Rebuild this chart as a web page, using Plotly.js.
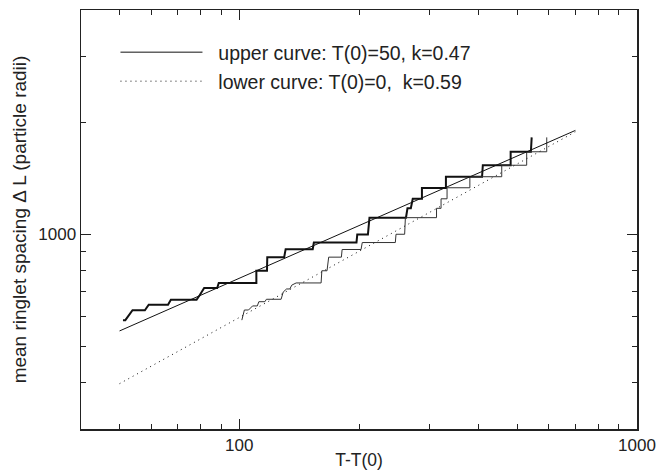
<!DOCTYPE html>
<html>
<head>
<meta charset="utf-8">
<script src="https://cdn.plot.ly/plotly-3.0.1.min.js"></script>
<style>html,body{margin:0;padding:0;background:#fff}#chart{width:657px;height:473px}</style>
</head>
<body>
<div id="chart"></div>
<script>
// Upper staircase (T(0)=50)
const upperX = [51, 51.7, 53.9, 57.9, 59.2, 66.2, 67.3, 78.1, 79.5, 81.6, 88.0, 88.8, 110.4, 110.4, 117.4, 117.6, 129.7, 130.8, 153.0, 154.0, 197.1, 198.0, 210.6, 212.5, 262.5, 264.8, 270, 273, 287.9, 287.9, 330.8, 330.8, 407.8, 409.6, 481.2, 481.2, 541, 543.5];
const upperY = [588, 588, 625, 625, 647, 647, 667, 667, 686, 717, 717, 740, 740, 798, 798, 868, 868, 912, 912, 950, 950, 998, 998, 1108, 1108, 1174, 1174, 1245, 1245, 1330, 1330, 1427, 1427, 1532, 1532, 1665, 1665, 1820];
// Lower staircase (T(0)=0)
const lowerX = [101.5, 103, 105.5, 108, 111, 112, 116, 117, 127.4, 129, 131.5, 134, 135.5, 139, 160.6, 161.3, 166.2, 167.8, 180.6, 181.4, 202.4, 203.8, 246.8, 247.8, 260.5, 261.6, 313.3, 313.3, 321.6, 321.6, 333, 333, 380, 380, 457, 457, 528, 528, 593, 593];
const lowerY = [588, 626, 626, 642, 642, 659, 659, 669, 669, 700, 713, 713, 730, 740, 740, 798, 798, 868, 868, 910, 910, 950, 950, 1000, 1000, 1108, 1108, 1174, 1174, 1245, 1245, 1333, 1333, 1427, 1427, 1532, 1532, 1665, 1665, 1820];
// Power-law fit lines (end points)
const fitX = [50, 700];
const upperFitY = [550, 1900];
const lowerFitY = [397, 1884];
// Axis ticks
const xMajor = [100, 1000];
const xMajorText = ['100', '1000'];
const xMinor = [50, 60, 70, 80, 90, 200, 300, 400, 500, 600, 700, 800, 900];
const yMajor = [1000];
const yMajorText = ['1000'];
const yMinor = [400, 500, 600, 700, 800, 900, 2000, 3000];
const upperName = '\u00A0\u00A0upper curve: T(0)=50, k=0.47';
const lowerName = '\u00A0\u00A0lower curve: T(0)=0,\u00A0 k=0.59';

const traces = [
  {x: upperX, y: upperY, mode: 'lines', line: {color: '#111', width: 2}, showlegend: false, hoverinfo: 'skip'},
  {x: lowerX, y: lowerY, mode: 'lines', line: {color: '#333', width: 1}, showlegend: false, hoverinfo: 'skip'},
  {x: fitX, y: upperFitY, mode: 'lines', name: upperName, line: {color: '#111', width: 1}, legend: 'legend'},
  {x: fitX, y: lowerFitY, mode: 'lines', name: lowerName, line: {color: '#111', width: 1, dash: '1px,4px'}, legend: 'legend2'}
];

const fam = 'Liberation Sans, Arial, sans-serif';
const tickFont = {family: fam, size: 17, color: '#222'};
const xTitleFont = {family: fam, size: 17.5, color: '#222'};
const yTitleFont = {family: fam, size: 19, color: '#222'};
const legendFont = {family: fam, size: 19.5, color: '#222'};
const axisCommon = {
  type: 'log', showgrid: false, zeroline: false, showline: true, linecolor: '#222', linewidth: 1.5,
  mirror: 'allticks', ticks: 'inside', ticklen: 10, tickwidth: 1, tickcolor: '#222',
  tickfont: tickFont
};
const layout = {
  width: 657, height: 473,
  margin: {l: 81, r: 20, t: 10, b: 44},
  paper_bgcolor: '#fff', plot_bgcolor: '#fff',
  font: tickFont,
  xaxis: Object.assign({}, axisCommon, {
    range: [Math.log10(40), 3], tickmode: 'array', tickvals: xMajor, ticktext: xMajorText,
    minor: {tickmode: 'array', tickvals: xMinor, ticks: 'inside', ticklen: 5, tickwidth: 1, tickcolor: '#222', showgrid: false},
    title: {text: 'T-T(0)', font: xTitleFont, standoff: 0}
  }),
  yaxis: Object.assign({}, axisCommon, {
    range: [Math.log10(300), Math.log10(4000)], tickmode: 'array', tickvals: yMajor, ticktext: yMajorText,
    minor: {tickmode: 'array', tickvals: yMinor, ticks: 'inside', ticklen: 5, tickwidth: 1, tickcolor: '#222', showgrid: false},
    title: {text: 'mean ringlet spacing \u0394 L (particle radii)', font: yTitleFont, standoff: 6}
  }),
  legend: {x: 0.062, y: 0.8986, xanchor: 'left', yanchor: 'middle', bgcolor: 'rgba(0,0,0,0)', itemwidth: 82, font: legendFont},
  legend2: {x: 0.062, y: 0.8294, xanchor: 'left', yanchor: 'middle', bgcolor: 'rgba(0,0,0,0)', itemwidth: 82, font: legendFont},
  showlegend: true
};
Plotly.newPlot('chart', traces, layout, {displayModeBar: false, staticPlot: true});
</script>
</body>
</html>
